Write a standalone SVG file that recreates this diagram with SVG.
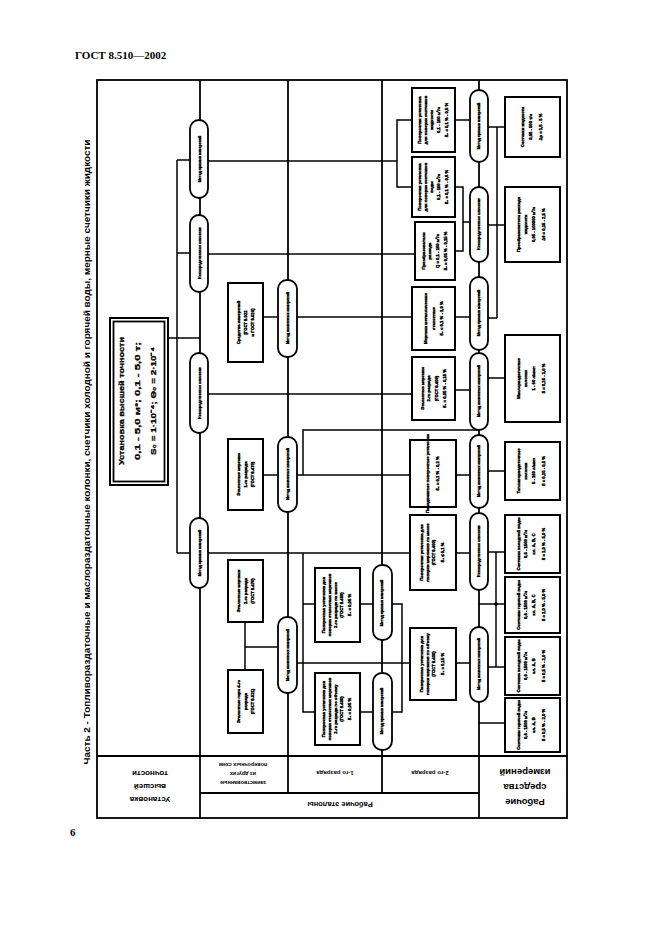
<svg xmlns="http://www.w3.org/2000/svg" width="661" height="936" viewBox="0 0 661 936">
<style>
.f{fill:none;stroke:#000;stroke-width:1.8}
.b{fill:#fff;stroke:#000;stroke-width:2}
.o{fill:#fff;stroke:#000;stroke-width:1.8}
#connectors line,#connectors polyline{stroke:#000;stroke-width:1.5;fill:none}
.t{font-family:"Liberation Sans",Arial,sans-serif;font-weight:bold;font-size:4.2px;text-anchor:middle;stroke:#000;stroke-width:0.4}
.ot{font-family:"Liberation Sans",Arial,sans-serif;font-weight:bold;font-size:3.6px;text-anchor:middle;stroke:#000;stroke-width:0.35}
.h{font-family:"Liberation Sans",Arial,sans-serif;font-weight:bold;text-anchor:middle}
.hs{stroke:#000;stroke-width:0.3}
.s{font-family:"Liberation Serif","Times New Roman",serif;font-weight:bold}
</style>
<rect width="661" height="936" fill="#fff"/>
<text class="s" x="75" y="59" font-size="11">ГОСТ 8.510—2002</text>
<text class="s" x="70" y="836" font-size="11" font-weight="normal">6</text>
<text class="h" font-size="8.5" transform="translate(90,452) rotate(-90)" textLength="625" lengthAdjust="spacingAndGlyphs">Часть 2 - Топливораздаточные и маслораздаточные колонки, счетчики холодной и горячей воды, мерные счетчики жидкости</text>

<g id="frame">
<rect class="f" x="97" y="80" width="470" height="738"/>
<line class="f" x1="200" y1="80" x2="200" y2="818"/>
<line class="f" x1="288" y1="80" x2="288" y2="793"/>
<line class="f" x1="382" y1="80" x2="382" y2="793"/>
<line class="f" x1="479" y1="80" x2="479" y2="818"/>
<line class="f" x1="97" y1="756" x2="567" y2="756"/>
<line class="f" x1="200" y1="793" x2="479" y2="793"/>
</g>

<g id="headers">
<g transform="translate(150,787) rotate(180)">
<text class="h" font-size="8" y="-10">Установка</text>
<text class="h" font-size="8" y="3">высшей</text>
<text class="h" font-size="8" y="16">точности</text>
</g>
<g transform="translate(243,774) rotate(180)">
<text class="h" font-size="5.5" y="-7">заимствованные</text>
<text class="h" font-size="5.5" y="2">из других</text>
<text class="h" font-size="5.5" y="11">поверочных схем</text>
</g>
<text class="h" font-size="6" transform="translate(335,773) rotate(180)" y="2">1-го разряда</text>
<text class="h" font-size="6" transform="translate(430,773) rotate(180)" y="2">2-го разряда</text>
<text class="h" font-size="7.5" transform="translate(340,805) rotate(180)" y="3">Рабочие эталоны</text>
<g transform="translate(525,787) rotate(180)">
<text class="h" font-size="9.5" y="-12">Рабочие</text>
<text class="h" font-size="9.5" y="3">средства</text>
<text class="h" font-size="9.5" y="18">измерений</text>
</g>
</g>

<g id="connectors">
<line x1="168" y1="338" x2="200" y2="338"/>
<line x1="177" y1="160" x2="177" y2="553"/>
<line x1="177" y1="160" x2="190" y2="160"/>
<line x1="177" y1="253" x2="190" y2="253"/>
<line x1="177" y1="553" x2="190" y2="553"/>
<line x1="208" y1="161" x2="397" y2="161"/>
<polyline points="412,120 397,120 397,187 412,187"/>
<line x1="208" y1="254" x2="415" y2="254"/>
<line x1="263" y1="317" x2="277" y2="317"/>
<line x1="297" y1="317" x2="412" y2="317"/>
<line x1="208" y1="394" x2="412" y2="394"/>
<line x1="263" y1="475" x2="277" y2="475"/>
<line x1="297" y1="475" x2="410" y2="475"/>
<polyline points="303,475 303,430 479,430"/>
<line x1="208" y1="553" x2="410" y2="553"/>
<polyline points="303,553 303,712 315,712"/>
<line x1="303" y1="604" x2="315" y2="604"/>
<line x1="245" y1="622" x2="245" y2="670"/>
<line x1="245" y1="647" x2="277" y2="647"/>
<line x1="297" y1="663" x2="410" y2="663"/>
<line x1="360" y1="604" x2="373" y2="604"/>
<line x1="360" y1="712" x2="373" y2="712"/>
<polyline points="392,604 402,604 402,712 392,712"/>
<line x1="455" y1="120" x2="470" y2="120"/>
<polyline points="455,187 463,187 463,251 455,251"/>
<line x1="463" y1="222" x2="470" y2="222"/>
<line x1="455" y1="317" x2="470" y2="317"/>
<line x1="455" y1="390" x2="470" y2="390"/>
<line x1="456" y1="475" x2="470" y2="475"/>
<line x1="456" y1="553" x2="470" y2="553"/>
<line x1="456" y1="663" x2="470" y2="663"/>
<line x1="488" y1="127" x2="505" y2="127"/>
<line x1="497" y1="127" x2="497" y2="318"/>
<line x1="488" y1="225" x2="505" y2="225"/>
<line x1="488" y1="318" x2="497" y2="318"/>
<line x1="488" y1="378" x2="505" y2="378"/>
<line x1="488" y1="471" x2="505" y2="471"/>
<line x1="488" y1="552" x2="505" y2="552"/>
<line x1="496" y1="552" x2="496" y2="667"/>
<line x1="479" y1="604" x2="505" y2="604"/>
<line x1="488" y1="667" x2="505" y2="667"/>
<line x1="479" y1="723" x2="505" y2="723"/>
<circle cx="496" cy="604" r="1.8"/>
</g>

<g id="top">
<rect class="b" x="110" y="318" width="58" height="167"/>
<rect class="f" x="113.5" y="321.5" width="51" height="160" stroke-width="1.2"/>
<g transform="translate(139,401) rotate(-90)" class="hs">
<text class="h" font-size="8" y="-15" textLength="128" lengthAdjust="spacingAndGlyphs">Установка высшей точности</text>
<text class="h" font-size="8" y="1" textLength="118" lengthAdjust="spacingAndGlyphs">0,1 - 5,0 м³; 0,1 - 5,0 т;</text>
<text class="h" font-size="8" y="17" textLength="108" lengthAdjust="spacingAndGlyphs">S₀ = 1·10⁻⁴; Θ₀ = 2·10⁻⁴</text>
</g>
</g>

<g id="ovals">
<g id="o1"><rect class="o" x="190" y="120" width="18" height="78" rx="9"/><text class="ot" transform="translate(200,159) rotate(-90)" y="1.2">Метод прямых измерений</text></g>
<g id="o2"><rect class="o" x="190" y="215" width="18" height="77" rx="9"/><text class="ot" transform="translate(200,253) rotate(-90)" y="1.2">Непосредственное сличение</text></g>
<g id="o3"><rect class="o" x="190" y="353" width="18" height="80" rx="9"/><text class="ot" transform="translate(200,393) rotate(-90)" y="1.2">Непосредственное сличение</text></g>
<g id="o4"><rect class="o" x="190" y="518" width="18" height="70" rx="9"/><text class="ot" transform="translate(200,553) rotate(-90)" y="1.2">Метод прямых измерений</text></g>
<g id="q1"><rect class="o" x="278" y="280" width="19" height="77" rx="9"/><text class="ot" transform="translate(288,318) rotate(-90)" y="1.2">Метод косвенных измерений</text></g>
<g id="q2"><rect class="o" x="278" y="437" width="19" height="75" rx="9"/><text class="ot" transform="translate(288,474) rotate(-90)" y="1.2">Метод косвенных измерений</text></g>
<g id="q3"><rect class="o" x="278" y="617" width="19" height="76" rx="9"/><text class="ot" transform="translate(288,655) rotate(-90)" y="1.2">Метод косвенных измерений</text></g>
<g id="l1"><rect class="o" x="373" y="565" width="19" height="75" rx="9"/><text class="ot" transform="translate(382,603) rotate(-90)" y="1.2">Метод прямых измерений</text></g>
<g id="l2"><rect class="o" x="373" y="673" width="19" height="77" rx="9"/><text class="ot" transform="translate(382,711) rotate(-90)" y="1.2">Метод прямых измерений</text></g>
<g id="p1"><rect class="o" x="470" y="90" width="18" height="72" rx="9"/><text class="ot" transform="translate(479,126) rotate(-90)" y="1.2">Метод прямых измерений</text></g>
<g id="p2"><rect class="o" x="470" y="187" width="18" height="75" rx="9"/><text class="ot" transform="translate(479,224) rotate(-90)" y="1.2">Непосредственное сличение</text></g>
<g id="p3"><rect class="o" x="470" y="277" width="18" height="73" rx="9"/><text class="ot" transform="translate(479,313) rotate(-90)" y="1.2">Метод прямых измерений</text></g>
<g id="p4"><rect class="o" x="470" y="353" width="18" height="77" rx="9"/><text class="ot" transform="translate(479,391) rotate(-90)" y="1.2">Метод косвенных измерений</text></g>
<g id="p5"><rect class="o" x="470" y="435" width="18" height="73" rx="9"/><text class="ot" transform="translate(479,471) rotate(-90)" y="1.2">Метод косвенных измерений</text></g>
<g id="p6"><rect class="o" x="470" y="513" width="18" height="77" rx="9"/><text class="ot" transform="translate(479,551) rotate(-90)" y="1.2">Непосредственное сличение</text></g>
<g id="p7"><rect class="o" x="470" y="627" width="18" height="75" rx="9"/><text class="ot" transform="translate(479,664) rotate(-90)" y="1.2">Метод косвенных измерений</text></g>
</g>

<g id="boxes">
<g id="s1"><rect class="b" x="228" y="283" width="35" height="79"/><g transform="translate(245.5,322.5) rotate(-90)"><text class="t" y="-5.6">Средства измерений</text><text class="t" y="1.4">[ГОСТ 8.022</text><text class="t" y="8.4">и ГОСТ 8.026]</text></g></g>
<g id="m1"><rect class="b" x="228" y="439" width="35" height="71"/><g transform="translate(245.5,474.5) rotate(-90)"><text class="t" y="-5.6">Эталонные мерники</text><text class="t" y="1.4">1-го разряда</text><text class="t" y="8.4">(ГОСТ 8.470)</text></g></g>
<g id="m2"><rect class="b" x="228" y="560" width="35" height="62"/><g transform="translate(245.5,591) rotate(-90)"><text class="t" y="-5.6">Эталонные мерники</text><text class="t" y="1.4">1-го разряда</text><text class="t" y="8.4">(ГОСТ 8.470)</text></g></g>
<g id="g4"><rect class="b" x="228" y="670" width="35" height="63"/><g transform="translate(245.5,701.5) rotate(-90)"><text class="t" y="-5.6">Эталонные гири 4-го</text><text class="t" y="1.4">разряда</text><text class="t" y="8.4">(ГОСТ 8.021)</text></g></g>

<g id="k1"><rect class="b" x="315" y="568" width="45" height="74"/><g transform="translate(337.5,605) rotate(-90)"><text class="t" y="-12.6">Поверочная установка для</text><text class="t" y="-6.6">поверки эталонных мерников</text><text class="t" y="-0.6">2-го разряда по массе</text><text class="t" y="5.4">(ГОСТ 8.400)</text><text class="t" y="13.4">δ₀ = 0,05 %</text></g></g>
<g id="k2"><rect class="b" x="315" y="673" width="45" height="72"/><g transform="translate(337.5,709) rotate(-90)"><text class="t" y="-12.6">Поверочная установка для</text><text class="t" y="-6.6">поверки эталонных мерников</text><text class="t" y="-0.6">2-го разряда по объему</text><text class="t" y="5.4">(ГОСТ 8.400)</text><text class="t" y="13.4">δ₀ = 0,05 %</text></g></g>

<g id="a"><rect class="b" x="412" y="88" width="43" height="64"/><g transform="translate(433.5,120) rotate(-90)"><text class="t" y="-12.6">Поверочная установка</text><text class="t" y="-6.6">для поверки счетчиков</text><text class="t" y="-0.6">жидкости</text><text class="t" y="6.4">0,1 - 100 м³/ч</text><text class="t" y="14.4">δ₀ = 0,1 % - 0,5 %</text></g></g>
<g id="bb"><rect class="b" x="412" y="157" width="43" height="60"/><g transform="translate(433.5,187) rotate(-90)"><text class="t" y="-12.6">Поверочная установка</text><text class="t" y="-6.6">для поверки счетчиков</text><text class="t" y="-0.6">воды</text><text class="t" y="6.4">0,1 - 100 м³/ч</text><text class="t" y="14.4">δ₀ = 0,1 % - 0,5 %</text></g></g>
<g id="c"><rect class="b" x="415" y="222" width="40" height="58"/><g transform="translate(435,251) rotate(-90)"><text class="t" y="-9.6">Преобразователи</text><text class="t" y="-3.6">расхода</text><text class="t" y="4.4">Q = 0,1 - 100 м³/ч</text><text class="t" y="12.4">δ₀ = 0,05 % - 0,15 %</text></g></g>
<g id="d"><rect class="b" x="412" y="287" width="43" height="63"/><g transform="translate(433.5,318.5) rotate(-90)"><text class="t" y="-6.6">Мерники металлические</text><text class="t" y="1.4">эталонные</text><text class="t" y="9.4">δ₀ = 0,1 % - 1,0 %</text></g></g>
<g id="e"><rect class="b" x="412" y="357" width="43" height="63"/><g transform="translate(433.5,388.5) rotate(-90)"><text class="t" y="-9.6">Эталонные мерники</text><text class="t" y="-3.6">2-го разряда</text><text class="t" y="4.4">(ГОСТ 8.400)</text><text class="t" y="12.4">δ₀ = 0,05 % - 0,15 %</text></g></g>
<g id="ff"><rect class="b" x="410" y="440" width="46" height="67"/><g transform="translate(433,473.5) rotate(-90)"><text class="t" y="-3.6">Передвижные поверочные установки</text><text class="t" y="6.4">δ₀ = 0,1 % - 0,2 %</text></g></g>
<g id="gg"><rect class="b" x="410" y="515" width="46" height="75"/><g transform="translate(433,552.5) rotate(-90)"><text class="t" y="-9.6">Поверочная установка для</text><text class="t" y="-3.6">поверки мерников по массе</text><text class="t" y="2.4">(ГОСТ 8.400)</text><text class="t" y="11.4">δ₀ ≤ 0,1 %</text></g></g>
<g id="hh"><rect class="b" x="410" y="628" width="46" height="72"/><g transform="translate(433,664) rotate(-90)"><text class="t" y="-9.6">Поверочная установка для</text><text class="t" y="-3.6">поверки мерников по объему</text><text class="t" y="2.4">(ГОСТ 8.400)</text><text class="t" y="11.4">δ₀ = 0,15 %</text></g></g>

<g id="r1"><rect class="b" x="505" y="97" width="55" height="60"/><g transform="translate(532.5,127) rotate(-90)"><text class="t" y="-8.6">Счетчики жидкости</text><text class="t" y="-0.6">0,05 - 500 т/ч</text><text class="t" y="9.4">Δp = 1,5 - 5 %</text></g></g>
<g id="r2"><rect class="b" x="505" y="187" width="55" height="75"/><g transform="translate(532.5,224.5) rotate(-90)"><text class="t" y="-12.6">Преобразователи расхода</text><text class="t" y="-5.6">жидкости</text><text class="t" y="2.4">0,05 - 100000 м³/ч</text><text class="t" y="12.4">Δθ = 0,15 - 2,5 %</text></g></g>
<g id="r3"><rect class="b" x="505" y="335" width="55" height="87"/><g transform="translate(532.5,378.5) rotate(-90)"><text class="t" y="-12.6">Маслораздаточные</text><text class="t" y="-5.6">колонки</text><text class="t" y="2.4">1 - 60 л/мин</text><text class="t" y="12.4">δ = 0,25 - 1,0 %</text></g></g>
<g id="r4"><rect class="b" x="505" y="442" width="55" height="58"/><g transform="translate(532.5,471) rotate(-90)"><text class="t" y="-12.6">Топливораздаточные</text><text class="t" y="-5.6">колонки</text><text class="t" y="2.4">5 - 160 л/мин</text><text class="t" y="12.4">δ = 0,25 - 0,5 %</text></g></g>
<g id="r5"><rect class="b" x="505" y="515" width="55" height="58"/><g transform="translate(532.5,544) rotate(-90)"><text class="t" y="-12.6">Счетчики холодной воды</text><text class="t" y="-5.6">0,6 - 1500 м³/ч</text><text class="t" y="2.4">кл. А, В, С</text><text class="t" y="12.4">δ = 1,0 % - 5,0 %</text></g></g>
<g id="r6"><rect class="b" x="505" y="577" width="55" height="56"/><g transform="translate(532.5,605) rotate(-90)"><text class="t" y="-12.6">Счетчики горячей воды</text><text class="t" y="-5.6">0,6 - 1500 м³/ч</text><text class="t" y="2.4">кл. А, В, С</text><text class="t" y="12.4">δ = 1,0 % - 5,0 %</text></g></g>
<g id="r7"><rect class="b" x="505" y="637" width="55" height="58"/><g transform="translate(532.5,666) rotate(-90)"><text class="t" y="-12.6">Счетчики холодной воды</text><text class="t" y="-5.6">0,6 - 1500 м³/ч</text><text class="t" y="2.4">кл. А, В</text><text class="t" y="12.4">δ = 0,5 % - 2,0 %</text></g></g>
<g id="r8"><rect class="b" x="505" y="698" width="55" height="54"/><g transform="translate(532.5,725) rotate(-90)"><text class="t" y="-12.6">Счетчики горячей воды</text><text class="t" y="-5.6">0,6 - 1500 м³/ч</text><text class="t" y="2.4">кл. А, В</text><text class="t" y="12.4">δ = 0,5 % - 2,0 %</text></g></g>
</g>
</svg>
